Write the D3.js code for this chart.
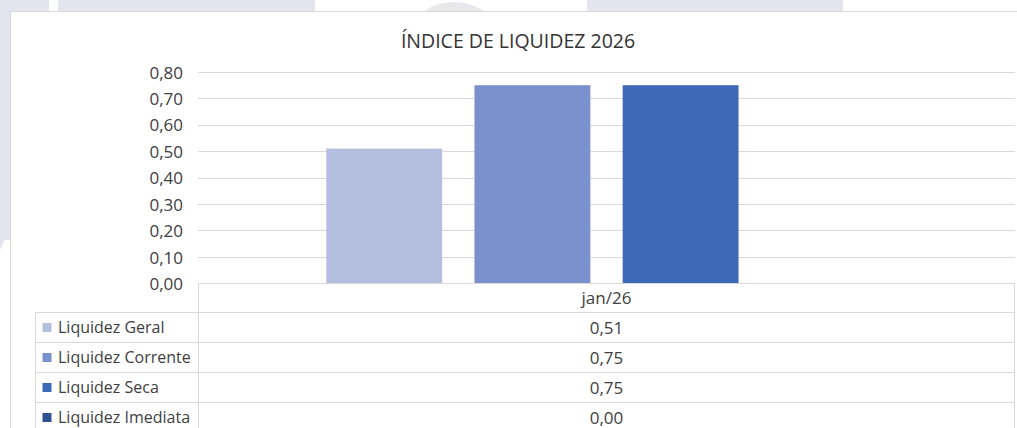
<!DOCTYPE html>
<meta charset="utf-8">
<style>
body { margin: 0; background: #fff; overflow: hidden; }
svg { display: block; }
text { font-family: "Open Sans", sans-serif; fill: #404040; }
.grid line { stroke: #d9d9d9; stroke-width: 1; }
.tbl line { stroke: #d9d9d9; stroke-width: 1; }
</style>
<body>
<div id="main"></div>
<script src="https://d3js.org/d3.v7.min.js"></script>
<script>

// data
var title = "ÍNDICE DE LIQUIDEZ 2026";
var categories = ["jan/26"];
var seriesNames = ["Liquidez Geral", "Liquidez Corrente", "Liquidez Seca", "Liquidez Imediata"];
var seriesValues = [0.51, 0.75, 0.75, 0.00];
var seriesColors = ["#b4bfe0", "#7a91cd", "#3e69b6", "#2f5193"];
var yTicks = [0, 0.1, 0.2, 0.3, 0.4, 0.5, 0.6, 0.7, 0.8];

var W = 1017, H = 428;
var plot = {left: 198, right: 1015, top: 72, bottom: 283.3};
var rowH = 30;

var br = d3.formatLocale({decimal: ",", thousands: ".", grouping: [3], currency: ["R$", ""]});
var fmt = br.format(".2f");

var svg = d3.select("#main").append("svg")
    .attr("width", W)
    .attr("height", H);

// pale watermark behind the chart frame
var wm = svg.append("g").attr("fill", "#e3e4ee");
wm.append("rect").attr("x", 0).attr("y", 0).attr("width", 49).attr("height", 240);
wm.append("path").attr("d", "M0,240 L10,240 L10,228 L0,250 Z");
wm.append("rect").attr("x", 58).attr("y", 0).attr("width", 257).attr("height", 11);
wm.append("ellipse").attr("cx", 454).attr("cy", 30).attr("rx", 40).attr("ry", 28).attr("fill", "#e8e8ec");
wm.append("rect").attr("x", 587).attr("y", 0).attr("width", 256).attr("height", 11);

// chart frame
svg.append("rect")
    .attr("x", 10.5).attr("y", 11.5)
    .attr("width", W).attr("height", H)
    .attr("fill", "#fff")
    .attr("stroke", "#d9d9d9");

svg.append("text")
    .attr("x", 518)
    .attr("y", 48)
    .attr("text-anchor", "middle")
    .style("font-size", "19.5px")
    .style("fill", "#333")
    .text(title);

// scales
var y = d3.scaleLinear().domain([0, 0.8]).range([plot.bottom, plot.top]);
var x0 = d3.scaleBand().domain(categories).range([plot.left, plot.right]).padding(0);
var x1 = d3.scaleBand().domain(seriesNames)
    .range([x0.bandwidth() * 0.157, x0.bandwidth() * 0.843])
    .paddingInner(0.218);

// gridlines
svg.append("g").attr("class", "grid")
  .selectAll("line")
  .data(yTicks.filter(d => d > 0))
  .enter().append("line")
    .attr("x1", plot.left).attr("x2", plot.right)
    .attr("y1", d => Math.round(y(d)) + 0.5)
    .attr("y2", d => Math.round(y(d)) + 0.5);

// y axis labels
var yAxis = svg.append("g")
    .attr("transform", `translate(${plot.left - 15},0)`)
    .call(d3.axisLeft(y).tickValues(yTicks).tickFormat(fmt).tickSize(0).tickPadding(0));
yAxis.select(".domain").remove();
yAxis.selectAll("text")
    .style("font-size", "17px")
    .attr("font-family", null)
    .attr("fill", "#404040")
    .attr("dy", "0.36em");

// bars
svg.append("g")
  .selectAll("g")
  .data(categories)
  .enter().append("g")
    .attr("transform", d => `translate(${x0(d)},0)`)
  .selectAll("rect")
  .data(() => seriesNames.map((s, i) => ({name: s, value: seriesValues[i], color: seriesColors[i]})))
  .enter().append("rect")
    .attr("x", d => x1(d.name))
    .attr("width", x1.bandwidth())
    .attr("y", d => y(d.value))
    .attr("height", d => y(0) - y(d.value))
    .attr("fill", d => d.color);

// data table
var tbl = svg.append("g").attr("class", "tbl");
var top0 = Math.round(y(0)) + 0.5;
var legLeft = 35.5;
var rows = seriesNames.length;

// horizontal lines
tbl.append("line").attr("x1", plot.left).attr("x2", plot.right).attr("y1", top0).attr("y2", top0);
d3.range(1, rows + 2).forEach(function(i) {
  var yy = top0 + 29 + (i - 1) * rowH;
  tbl.append("line").attr("x1", legLeft).attr("x2", plot.right).attr("y1", yy).attr("y2", yy);
});
// vertical lines
tbl.append("line").attr("x1", plot.left + 0.5).attr("x2", plot.left + 0.5).attr("y1", top0).attr("y2", H);
tbl.append("line").attr("x1", plot.right - 0.5).attr("x2", plot.right - 0.5).attr("y1", top0).attr("y2", H);
tbl.append("line").attr("x1", legLeft).attr("x2", legLeft).attr("y1", top0 + 29).attr("y2", H);

// header
categories.forEach(function(c) {
  tbl.append("text")
    .attr("x", x0(c) + x0.bandwidth() / 2)
    .attr("y", top0 + 14.5)
    .attr("dy", "0.36em")
    .attr("text-anchor", "middle")
    .style("font-size", "17px")
    .text(c);
});

// rows
seriesNames.forEach(function(s, i) {
  var cy = top0 + 29 + i * rowH + rowH / 2;
  tbl.append("rect")
    .attr("x", 42.5).attr("y", cy - 4.5)
    .attr("width", 9).attr("height", 9)
    .attr("fill", seriesColors[i]);
  tbl.append("text")
    .attr("x", 58).attr("y", cy)
    .attr("dy", "0.36em")
    .style("font-size", "16px")
    .text(s);
  tbl.append("text")
    .attr("x", x0(categories[0]) + x0.bandwidth() / 2)
    .attr("y", cy)
    .attr("dy", "0.36em")
    .attr("text-anchor", "middle")
    .style("font-size", "17px")
    .text(fmt(seriesValues[i]));
});

</script>
</body>
